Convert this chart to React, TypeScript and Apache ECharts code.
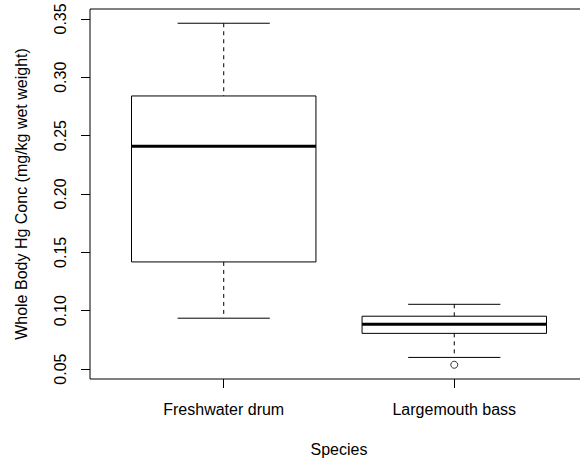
import React, { useEffect, useRef } from "react";
import * as echarts from "echarts";

// Mercury concentration by species (mg/kg wet weight)
const categories = ["Freshwater drum", "Largemouth bass"];
const lowerWhisker = [0.0936, 0.0600];
const lowerQuartile = [0.1418, 0.0806];
const medians = [0.2409, 0.0885];
const upperQuartile = [0.2840, 0.0953];
const upperWhisker = [0.3463, 0.1055];
// outliers as [category position, value]
const outliers = [[2, 0.0537]];
const yTicks = [0.05, 0.1, 0.15, 0.2, 0.25, 0.3, 0.35];
const xTicks = [1, 2];

const FONT = "'Liberation Sans', Arial, sans-serif";

export default function App() {
  const ref = useRef<HTMLDivElement>(null);

  useEffect(() => {
    if (!ref.current) return;
    const chart = echarts.init(ref.current, null, { renderer: "svg" });

    const boxData = categories.map((_, i) => [
      i + 1,
      lowerWhisker[i],
      lowerQuartile[i],
      medians[i],
      upperQuartile[i],
      upperWhisker[i],
    ]);

    const boxWex = 0.8; // box width in category units
    const stapleWex = 0.5; // caps relative to box width

    const renderItem = (params: any, api: any) => {
      const x = api.value(0);
      const lo = api.coord([x, api.value(1)]);
      const q1 = api.coord([x, api.value(2)]);
      const md = api.coord([x, api.value(3)]);
      const q3 = api.coord([x, api.value(4)]);
      const hi = api.coord([x, api.value(5)]);
      const left = api.coord([x - boxWex / 2, 0])[0];
      const right = api.coord([x + boxWex / 2, 0])[0];
      const capL = api.coord([x - (boxWex * stapleWex) / 2, 0])[0];
      const capR = api.coord([x + (boxWex * stapleWex) / 2, 0])[0];
      const cx = lo[0];
      const line = { stroke: "#000", lineWidth: 1 };
      const dash = { stroke: "#000", lineWidth: 1, lineDash: [4, 4] };
      return {
        type: "group",
        children: [
          { type: "line", shape: { x1: cx, y1: hi[1], x2: cx, y2: q3[1] }, style: dash },
          { type: "line", shape: { x1: cx, y1: q1[1], x2: cx, y2: lo[1] }, style: dash },
          { type: "line", shape: { x1: capL, y1: hi[1], x2: capR, y2: hi[1] }, style: line },
          { type: "line", shape: { x1: capL, y1: lo[1], x2: capR, y2: lo[1] }, style: line },
          {
            type: "rect",
            shape: { x: left, y: q3[1], width: right - left, height: q1[1] - q3[1] },
            style: { fill: "#fff", stroke: "#000", lineWidth: 1 },
          },
          {
            type: "line",
            shape: { x1: left, y1: md[1], x2: right, y2: md[1] },
            style: { stroke: "#000", lineWidth: 3 },
          },
        ],
      };
    };

    chart.setOption({
      animation: false,
      backgroundColor: "#fff",
      textStyle: { fontFamily: FONT },
      grid: {
        left: 90,
        top: 9,
        right: 12,
        bottom: 80,
        show: true,
        borderColor: "#000",
        borderWidth: 1,
        backgroundColor: "transparent",
      },
      xAxis: {
        type: "value",
        min: 0.42,
        max: 2.58,
        name: "Species",
        nameLocation: "middle",
        nameGap: 62,
        nameTextStyle: { fontSize: 16, color: "#000", fontFamily: FONT },
        axisLine: { show: false },
        splitLine: { show: false },
        axisTick: {
          show: true,
          length: 9,
          customValues: xTicks,
          lineStyle: { color: "#000" },
        },
        axisLabel: {
          customValues: xTicks,
          fontSize: 16,
          color: "#000",
          margin: 22,
          fontFamily: FONT,
          formatter: (v: number) => categories[Math.round(v) - 1] ?? "",
        },
      },
      yAxis: {
        type: "value",
        min: 0.0415,
        max: 0.3585,
        name: "Whole Body Hg Conc (mg/kg wet weight)",
        nameLocation: "middle",
        nameRotate: 90,
        nameGap: 61,
        nameTextStyle: { fontSize: 16, color: "#000", fontFamily: FONT },
        axisLine: { show: false },
        splitLine: { show: false },
        axisTick: {
          show: true,
          length: 9,
          customValues: yTicks,
          lineStyle: { color: "#000" },
        },
        axisLabel: {
          customValues: yTicks,
          rotate: 90,
          fontSize: 16,
          color: "#000",
          margin: 22,
          fontFamily: FONT,
          formatter: (v: number) => v.toFixed(2),
        },
      },
      series: [
        {
          type: "custom",
          renderItem,
          data: boxData,
          encode: { x: 0, y: [1, 2, 3, 4, 5] },
          silent: true,
        },
        {
          type: "scatter",
          data: outliers,
          symbol: "circle",
          symbolSize: 7,
          clip: false,
          z: 5,
          itemStyle: { color: "#fff", borderColor: "#000", borderWidth: 1 },
          silent: true,
        },
      ],
    });

    return () => chart.dispose();
  }, []);

  return (
    <div
      style={{
        position: "fixed",
        left: 0,
        top: 0,
        width: 580,
        height: 462,
        overflow: "hidden",
        background: "#fff",
      }}
    >
      <div ref={ref} style={{ width: 600, height: 462 }} />
    </div>
  );
}
